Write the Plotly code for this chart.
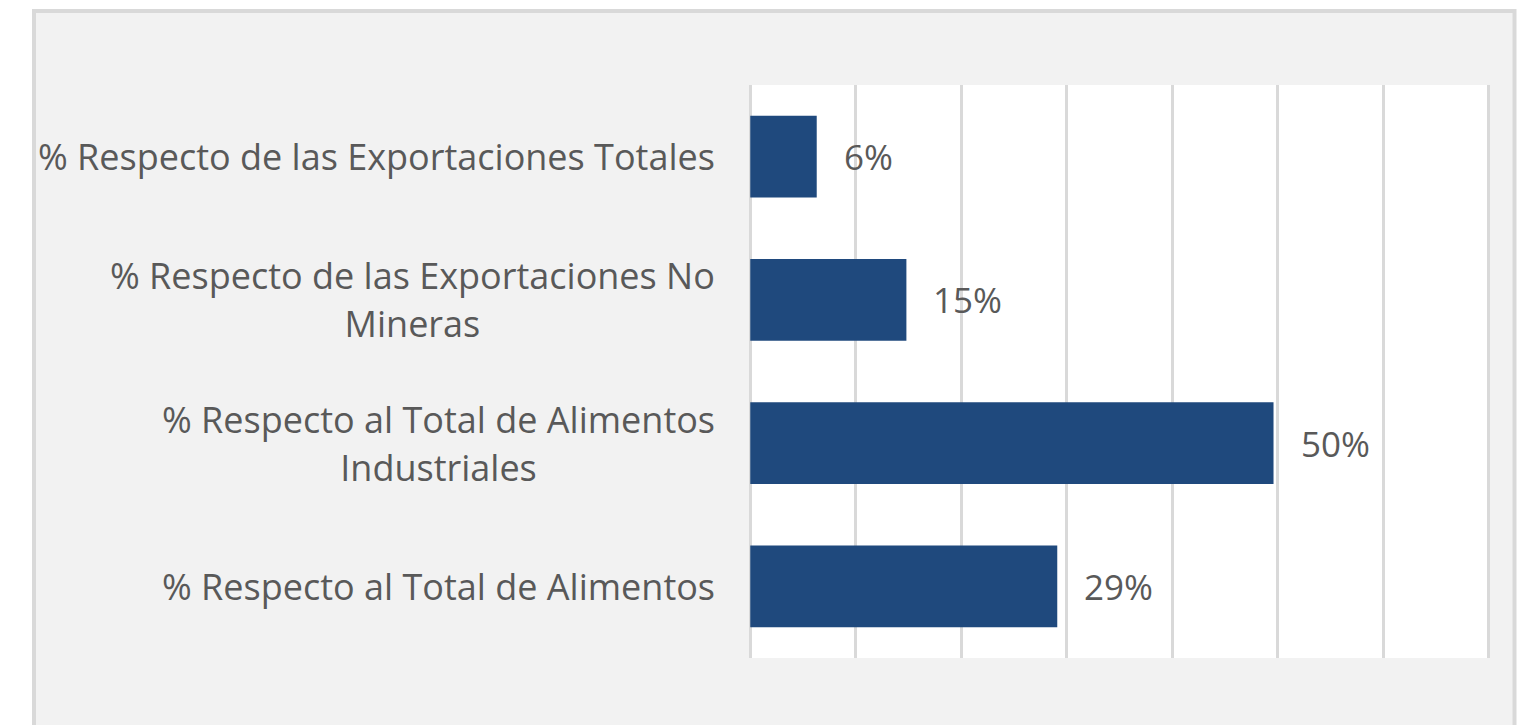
import plotly.graph_objects as go

categories = [
    "% Respecto de las Exportaciones Totales",
    "% Respecto de las Exportaciones No Mineras",
    "% Respecto al Total de Alimentos Industriales",
    "% Respecto al Total de Alimentos",
]
label_lines = [
    ["% Respecto de las Exportaciones Totales"],
    ["% Respecto de las Exportaciones No", "Mineras"],
    ["% Respecto al Total de Alimentos", "Industriales"],
    ["% Respecto al Total de Alimentos"],
]
values = [0.063, 0.148, 0.496, 0.291]

OFF = 8  # page body margin
W, H = 1526 - OFF, 725 - OFF
L, R, T, B = 749 - OFF, 36, 85 - OFF, 67
PW, PH = W - L - R, H - T - B

def px_x(p):
    return (p - OFF - L) / PW

def px_y(p):
    return (H - B - (p - OFF)) / PH

FONT = "Open Sans"
TXT = "#595959"

fig = go.Figure()
fig.add_trace(go.Bar(
    y=categories, x=values, orientation="h",
    marker=dict(color="#1f497d", line=dict(width=0)),
    width=0.57, hoverinfo="skip",
))

annotations = []
for cat, lines in zip(categories, label_lines):
    text = "<br>".join(f"<span style='font-size:36px'>{ln}</span>" for ln in lines)
    annotations.append(dict(
        xref="paper", yref="y", x=0, y=cat, xanchor="right", yanchor="middle",
        xshift=-32, text=text, showarrow=False, align="center",
        font=dict(family=FONT, size=37, color=TXT),
    ))
for cat, v in zip(categories, values):
    annotations.append(dict(
        xref="x", yref="y", x=v, y=cat, xanchor="left", yanchor="middle",
        xshift=25, text=f"{v:.0%}", showarrow=False,
        font=dict(family=FONT, size=35, color=TXT),
    ))

shapes = [
    dict(type="rect", xref="paper", yref="paper", layer="below",
         x0=px_x(34), x1=px_x(1514.5), y0=px_y(760), y1=px_y(11),
         fillcolor="#f2f2f2", line=dict(color="#d9d9d9", width=4)),
    dict(type="rect", xref="paper", yref="paper", layer="below",
         x0=0, x1=1, y0=0, y1=1, fillcolor="white", line=dict(width=0)),
]

fig.update_layout(
    width=W, height=H,
    margin=dict(l=L, r=R, t=T, b=B, pad=0),
    paper_bgcolor="white", plot_bgcolor="white",
    showlegend=False,
    annotations=annotations, shapes=shapes,
    xaxis=dict(range=[-0.0012, 0.7012], dtick=0.1, tick0=0, showticklabels=False,
               showgrid=True, gridcolor="#d9d9d9", gridwidth=3,
               zeroline=False, showline=False, ticks=""),
    yaxis=dict(autorange="reversed", showticklabels=False, showgrid=False,
               zeroline=False, showline=False, ticks=""),
    bargap=0.43,
)

fig.write_html("out.html")
